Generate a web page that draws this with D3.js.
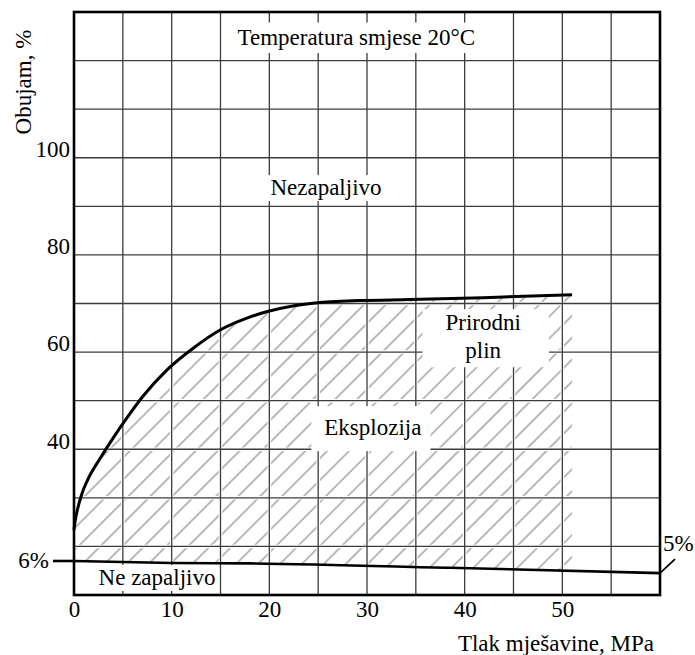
<!DOCTYPE html>
<html>
<head>
<meta charset="utf-8">
<script src="https://cdn.jsdelivr.net/npm/d3@7"></script>
<style>
  body { margin: 0; background: #fff; }
  svg text { font-family: "Liberation Serif", "Times New Roman", Times, "DejaVu Serif", serif; font-size: 23px; fill: #000; }
</style>
</head>
<body>
<svg id="chart" width="695" height="655"></svg>
<script>
// upper explosion limit of natural gas vs. mixture pressure
const pressure   = [0, 0.1, 0.3, 0.8, 1.4, 2.7, 4, 5.4, 7.1, 9.5, 12.2, 15, 17.7, 19.9, 22.4, 24.7, 29.3, 34.4, 41.9, 51];
const upperLimit = [23.4, 25, 27.1, 30.8, 33.7, 38.2, 42.3, 46.4, 51, 56.3, 60.8, 64.6, 67, 68.4, 69.5, 70.1, 70.6, 70.8, 71.2, 71.8];

// lower limit (6% -> 5%), drawn schematically near the bottom of the grid
const lowerPressure = [0, 10, 18, 38.5, 60];
const lowerLimit    = [17.0, 16.6, 16.5, 15.6, 14.5];

const xTickLabels = [0, 10, 20, 30, 40, 50];
const yTickLabels = [40, 60, 80, 100];

const svg = d3.select("#chart");

const x = d3.scaleLinear().domain([0, 60]).range([74, 660]);
const y = d3.scaleLinear().domain([10, 130]).range([595, 12]);

const upper = pressure.map((p, i) => [p, upperLimit[i]]);
const lower = lowerPressure.map((p, i) => [p, lowerLimit[i]]);

const defs = svg.append("defs");
defs.append("pattern")
    .attr("id", "hatch")
    .attr("patternUnits", "userSpaceOnUse")
    .attr("width", 15.5)
    .attr("height", 15.5)
    .attr("patternTransform", "rotate(45)")
  .append("line")
    .attr("x1", 7.75).attr("x2", 7.75)
    .attr("y1", 0).attr("y2", 15.5)
    .attr("stroke", "#8a8a8a")
    .attr("stroke-width", 1.2);

const underUpper = d3.area()
    .curve(d3.curveMonotoneX)
    .x(d => x(d[0]))
    .y0(y(10))
    .y1(d => y(d[1]));

defs.append("clipPath").attr("id", "underCurve")
  .append("path").attr("d", underUpper(upper));

const aboveLower = d3.area()
    .curve(d3.curveMonotoneX)
    .x(d => x(d[0]))
    .y0(d => y(d[1]))
    .y1(y(130));

// layers
const hatchLayer = svg.append("g");
const gridLayer = svg.append("g");
const boxLayer = svg.append("g");
const lineLayer = svg.append("g");
const textLayer = svg.append("g");

// explosion area hatching
hatchLayer.append("path")
    .attr("clip-path", "url(#underCurve)")
    .attr("d", aboveLower(lower))
    .attr("fill", "url(#hatch)");

// grid, with a thin white halo so the hatching breaks at the lines
const xs = x.ticks(12), ys = y.ticks(12);
[["#fff", 3.5], ["#3c3c3c", 1.3]].forEach(([col, w]) => {
  gridLayer.append("g").selectAll("line").data(xs).join("line")
      .attr("x1", d => x(d)).attr("x2", d => x(d))
      .attr("y1", y(130)).attr("y2", y(10))
      .attr("stroke", col).attr("stroke-width", w);
  gridLayer.append("g").selectAll("line").data(ys).join("line")
      .attr("x1", x(0)).attr("x2", x(60))
      .attr("y1", d => y(d)).attr("y2", d => y(d))
      .attr("stroke", col).attr("stroke-width", w);
});

// labels inside the plot, each sits on a white box that cuts the grid
function label(lines, p, v, pad) {
  const t = textLayer.append("text")
      .attr("x", x(p)).attr("y", y(v))
      .attr("text-anchor", "middle");
  lines.forEach((s, i) => {
    t.append("tspan").attr("x", x(p)).attr("dy", i === 0 ? 0 : 28).text(s);
  });
  const b = t.node().getBBox();
  boxLayer.append("rect")
      .attr("x", b.x - pad[0])
      .attr("y", b.y - pad[2])
      .attr("width", b.width + pad[0] + pad[1])
      .attr("height", b.height + pad[2] + pad[3])
      .attr("fill", "#fff");
}

label(["Temperatura smjese 20°C"], 28.9, 123.2, [9, 8, 2.5, 3]);
label(["Nezapaljivo"], 25.8, 92.3, [6, 30, 0, 1]);
label(["Eksplozija"], 30.6, 42.9, [13, 9, 9, 11]);
label(["Prirodni", "plin"], 41.9, 64.5, [23, 28, 1, 4]);
label(["Ne zapaljivo"], 8.5, 12.06, [5, 0, 0, 1]);

// limit curves
const line = d3.line().curve(d3.curveMonotoneX).x(d => x(d[0])).y(d => y(d[1]));

lineLayer.append("path")
    .attr("d", line(upper))
    .attr("fill", "none")
    .attr("stroke", "#000")
    .attr("stroke-width", 3);

lineLayer.append("path")
    .attr("d", line(lower))
    .attr("fill", "none")
    .attr("stroke", "#000")
    .attr("stroke-width", 2.6);

const y6 = y(lowerLimit[0]);
const y5 = y(lowerLimit[lowerLimit.length - 1]);

lineLayer.append("line")
    .attr("x1", x(0) - 21).attr("x2", x(0))
    .attr("y1", y6).attr("y2", y6)
    .attr("stroke", "#000").attr("stroke-width", 2.6);

lineLayer.append("line")
    .attr("x1", x(60)).attr("x2", x(60) + 15)
    .attr("y1", y5).attr("y2", y5 - 14)
    .attr("stroke", "#000").attr("stroke-width", 1.8);

// frame
lineLayer.append("rect")
    .attr("x", x(0)).attr("y", y(130))
    .attr("width", x(60) - x(0)).attr("height", y(10) - y(130))
    .attr("fill", "none")
    .attr("stroke", "#000")
    .attr("stroke-width", 2.6);

textLayer.append("text")
    .attr("x", x(0) - 25).attr("y", y6 + 7)
    .attr("text-anchor", "end")
    .text("6%");

textLayer.append("text")
    .attr("x", x(60) + 3).attr("y", y5 - 22)
    .text("5%");

// axes
const xAxis = textLayer.append("g")
    .attr("transform", `translate(0,${y(10)})`)
    .call(d3.axisBottom(x).tickValues(xTickLabels).tickSize(0).tickPadding(5.5))
    .call(g => g.select(".domain").remove());

const yAxis = textLayer.append("g")
    .attr("transform", `translate(${x(0)},0)`)
    .call(d3.axisLeft(y).tickValues(yTickLabels).tickSize(0).tickPadding(4))
    .call(g => g.select(".domain").remove())
    .call(g => g.selectAll("text").attr("dy", "-0.05em"));

[xAxis, yAxis].forEach(g => g.attr("font-family", null).attr("font-size", null));

textLayer.append("text")
    .attr("x", 654).attr("y", 651)
    .attr("text-anchor", "end")
    .text("Tlak mješavine, MPa");

textLayer.append("text")
    .attr("transform", "translate(31,82) rotate(-90)")
    .attr("text-anchor", "middle")
    .text("Obujam, %");
</script>
</body>
</html>
